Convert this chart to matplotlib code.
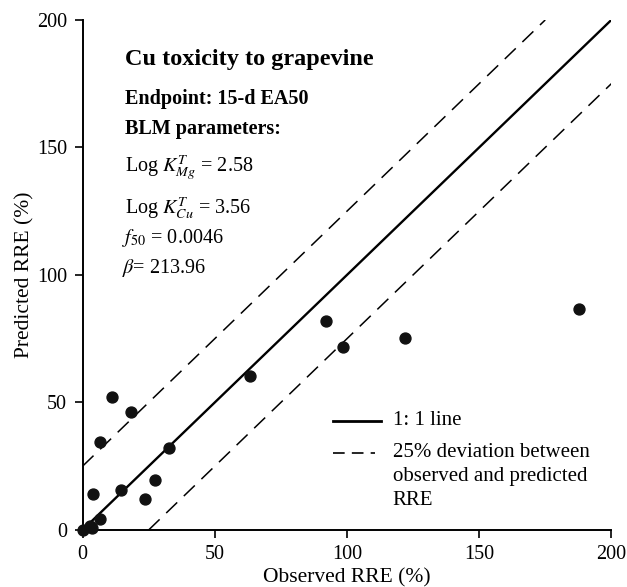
import matplotlib
matplotlib.use("Agg")
import matplotlib.pyplot as plt

plt.rcParams['font.family'] = ['Liberation Serif', 'DejaVu Serif']
plt.rcParams['mathtext.fontset'] = 'stix'

observed = [0, 3, 3.7, 6.8, 3.9, 14.4, 23.5, 27.3, 32.8, 6.8, 18.2, 11, 63.3, 92, 98.6, 122, 187.8]
predicted = [0, 1.4, 0.6, 4.4, 14.2, 15.8, 12.3, 19.6, 32.1, 34.5, 46.1, 52, 60.5, 82, 71.8, 75.3, 86.5]
ticks = [0, 50, 100, 150, 200]
one_to_one = [0, 200]
upper_x = [0, 175]
upper_y = [25, 200]
lower_x = [25, 200]
lower_y = [0, 175]
legend_solid = '1: 1 line'
legend_dashed = ['25% deviation between', 'observed and predicted', 'RRE']

fig = plt.figure(figsize=(6.27, 5.87), dpi=100)
ax = fig.add_axes([0.1316, 0.0971, 0.8434, 0.8689])

ax.plot(one_to_one, one_to_one, color='black', lw=1.7)
ax.plot(upper_x, upper_y, color='black', lw=1.1, dashes=(10, 6))
ax.plot(lower_x, lower_y, color='black', lw=1.1, dashes=(10, 6))
ax.scatter(observed, predicted, s=62, color='#111111', zorder=5, clip_on=False)

ax.set_xlim(0, 200)
ax.set_ylim(0, 200)
ax.set_xticks(ticks)
ax.set_yticks(ticks)
ax.tick_params(labelsize=14.5, direction='out', length=6, width=1.2, pad=5)
for s in ['top', 'right']:
    ax.spines[s].set_visible(False)
for s in ['left', 'bottom']:
    ax.spines[s].set_linewidth(1.4)
ax.set_xlabel('Observed RRE (%)', fontsize=15.5, labelpad=3)
ax.set_ylabel('Predicted RRE (%)', fontsize=15.5, labelpad=2)

tx = 16
ax.text(tx, 184.3, 'Cu toxicity to grapevine', fontsize=17.5, fontweight='bold', va='center')
ax.text(tx, 169.0, 'Endpoint: 15-d EA50', fontsize=14.5, fontweight='bold', va='center')
ax.text(tx, 157.4, 'BLM parameters:', fontsize=14.5, fontweight='bold', va='center')
ax.text(tx, 142.0, r'Log $K_{Mg}^{T}$ = 2.58', fontsize=14.5, va='center')
ax.text(tx, 126.3, r'Log $K_{Cu}^{T}$ = 3.56', fontsize=14.5, va='center')
ax.text(tx - 1, 114.5, r'$f_{50}$ = 0.0046', fontsize=14.5, va='center')
ax.text(tx - 1, 102.9, r'$\beta$= 213.96', fontsize=14.5, va='center')

# legend (manual layout, axes fraction)
tr = ax.transAxes
ax.plot([0.473, 0.564], [0.2143, 0.2143], color='black', lw=2.0, transform=tr, clip_on=False)
ax.plot([0.473, 0.553], [0.1516, 0.1516], color='black', lw=1.2, dashes=(7, 4.3),
        transform=tr, clip_on=False)
ax.text(0.5864, 0.2143, legend_solid, fontsize=15, va='center', transform=tr)
for i, line in enumerate(legend_dashed):
    ax.text(0.5864, 0.1516 - i * 0.0471, line, fontsize=15, va='center', transform=tr)

fig.savefig('out.png', dpi=100)
